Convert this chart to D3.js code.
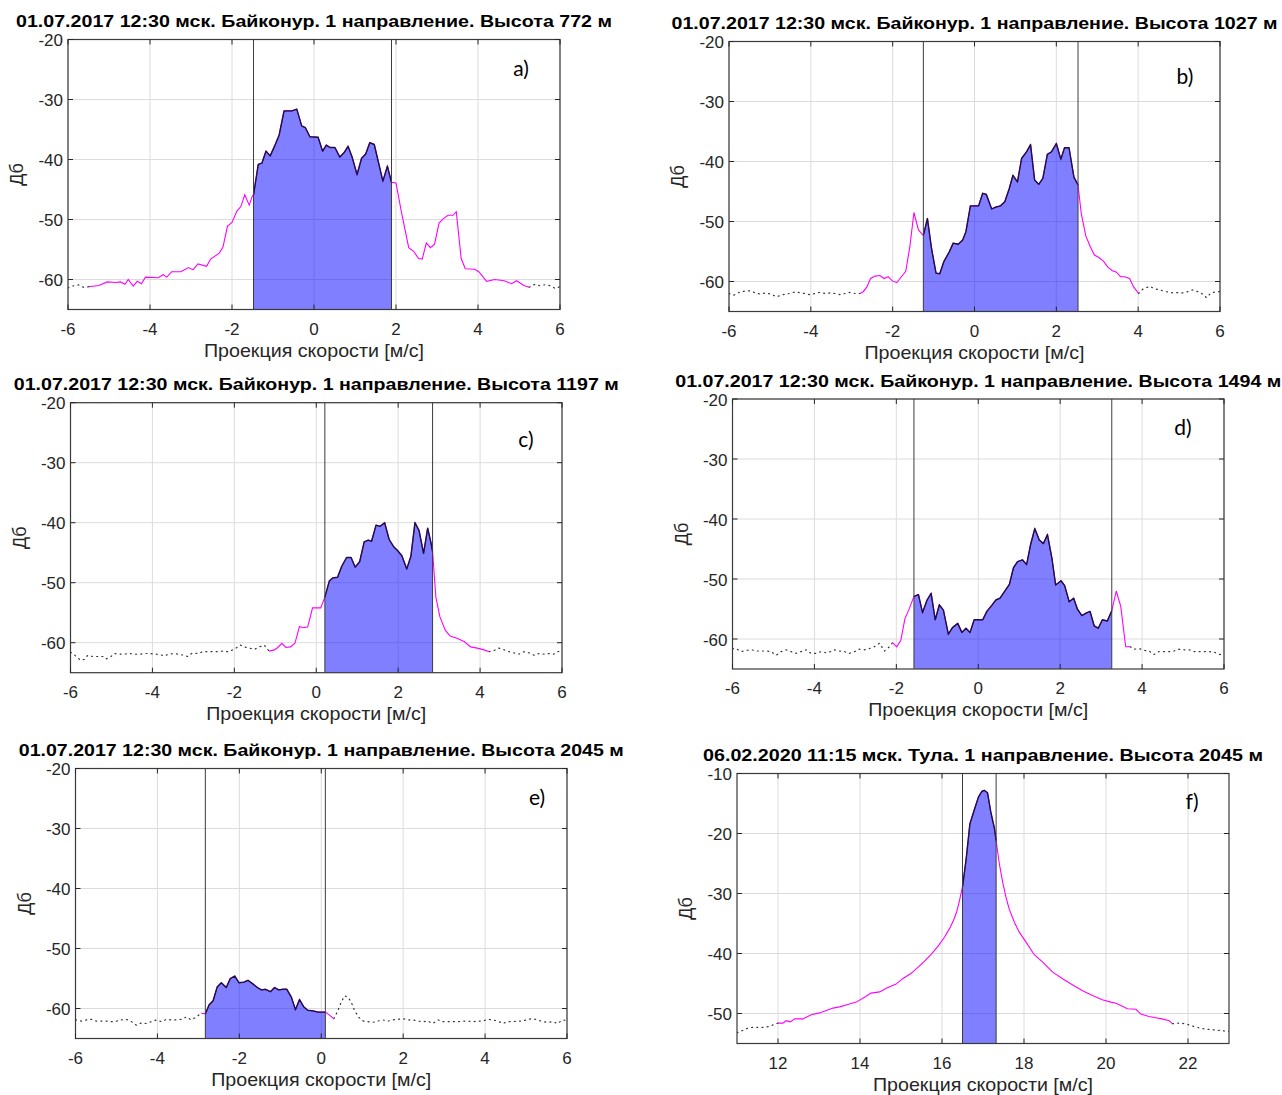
<!DOCTYPE html>
<html>
<head>
<meta charset="utf-8">
<script src="https://cdn.jsdelivr.net/npm/d3@7"></script>
<style>
  html, body { margin: 0; padding: 0; background: #fff; }
  svg { display: block; }
</style>
</head>
<body>
<svg id="chart" width="1282" height="1095"></svg>
<script>
// Доплеровские спектры: шесть панелей (a–f), шум пунктиром, сигнал пурпурным,
// область интегрирования залита синим между двумя вертикальными границами.

const TITLES = [
  '01.07.2017 12:30 мск. Байконур. 1 направление. Высота 772 м',
  '01.07.2017 12:30 мск. Байконур. 1 направление. Высота 1027 м',
  '01.07.2017 12:30 мск. Байконур. 1 направление. Высота 1197 м',
  '01.07.2017 12:30 мск. Байконур. 1 направление. Высота 1494 м',
  '01.07.2017 12:30 мск. Байконур. 1 направление. Высота 2045 м',
  '06.02.2020 11:15 мск. Тула. 1 направление. Высота 2045 м'
];
const TAGS = ['a)', 'b)', 'c)', 'd)', 'e)', 'f)'];
const X_LABEL = 'Проекция скорости [м/с]';
const Y_LABEL = 'Дб';

const X_TICKS_BAIKONUR = [-6, -4, -2, 0, 2, 4, 6];
const X_TICKS_TULA = [12, 14, 16, 18, 20, 22];
const Y_TICKS_BAIKONUR = [-60, -50, -40, -30, -20];
const Y_TICKS_TULA = [-50, -40, -30, -20, -10];

// ---- a) 772 м
const aNoiseL = [[-6.0,-61.4],[-5.9,-61.1],[-5.74,-60.9],[-5.62,-61.3],[-5.49,-61.2]];
const aSig = [[-5.49,-61.2],[-5.25,-61.0],[-5.04,-60.4],[-4.84,-60.5],[-4.72,-60.4],[-4.61,-60.8],[-4.53,-60.0],[-4.41,-61.1],[-4.31,-60.3],[-4.21,-60.7],[-4.11,-59.6],[-3.80,-59.7],[-3.68,-59.2],[-3.59,-59.6],[-3.47,-58.7],[-3.25,-58.7],[-3.06,-58.0],[-2.95,-58.4],[-2.83,-57.4],[-2.62,-57.8],[-2.52,-56.6],[-2.31,-55.6],[-2.22,-54.6],[-2.11,-51.1],[-2.00,-50.5],[-1.88,-48.6],[-1.78,-47.8],[-1.69,-45.9],[-1.58,-47.6],[-1.50,-46.0],[-1.475,-45.9],[-1.36,-40.8],[-1.27,-40.6],[-1.17,-38.6],[-1.07,-39.4],[-0.95,-37.6],[-0.85,-35.9],[-0.73,-31.9],[-0.54,-31.9],[-0.42,-31.6],[-0.30,-34.4],[-0.21,-34.7],[-0.10,-36.2],[0.10,-36.3],[0.21,-38.6],[0.30,-37.6],[0.39,-38.0],[0.51,-38.0],[0.63,-39.6],[0.74,-38.8],[0.83,-37.8],[0.93,-39.6],[1.05,-42.5],[1.16,-39.8],[1.26,-39.1],[1.36,-37.2],[1.47,-37.5],[1.68,-43.6],[1.79,-41.1],[1.89,-43.8],[2.00,-43.9],[2.13,-48.7],[2.31,-54.7],[2.43,-55.3],[2.55,-56.5],[2.64,-56.6],[2.74,-53.9],[2.84,-54.7],[2.94,-54.1],[3.05,-50.6],[3.15,-49.9],[3.27,-49.3],[3.39,-49.3],[3.47,-48.7],[3.59,-56.5],[3.69,-58.2],[3.92,-58.3],[4.02,-58.7],[4.21,-60.3],[4.41,-60.0],[4.64,-60.2],[4.82,-60.7],[4.94,-60.2],[5.12,-61.0],[5.25,-61.3]];
const aNoiseR = [[5.25,-61.3],[5.39,-60.8],[5.51,-61.05],[5.65,-60.85],[5.77,-61.05],[5.88,-61.5],[6.0,-61.2]];
const aBounds = [-1.475, 1.89];

// ---- b) 1027 м
const bNoiseL = [[-6.0,-62.0],[-5.89,-62.3],[-5.72,-61.7],[-5.60,-61.6],[-5.48,-61.55],[-5.36,-61.9],[-5.24,-62.1],[-5.11,-61.9],[-4.99,-62.1],[-4.83,-62.55],[-4.71,-62.2],[-4.59,-62.1],[-4.46,-61.9],[-4.38,-61.7],[-4.26,-61.9],[-4.14,-62.0],[-4.02,-62.2],[-3.89,-62.0],[-3.77,-61.8],[-3.65,-62.0],[-3.53,-61.9],[-3.41,-62.0],[-3.28,-62.2],[-3.16,-62.0],[-3.04,-61.8],[-2.92,-62.0],[-2.80,-62.0]];
const bSig = [[-2.80,-62.0],[-2.72,-61.7],[-2.63,-60.9],[-2.54,-59.5],[-2.43,-59.1],[-2.31,-59.0],[-2.21,-59.5],[-2.11,-59.2],[-2.01,-59.9],[-1.90,-60.2],[-1.82,-59.5],[-1.68,-58.3],[-1.58,-54.2],[-1.48,-48.5],[-1.37,-51.4],[-1.27,-52.2],[-1.25,-52.3],[-1.15,-49.5],[-1.05,-54.5],[-0.94,-58.6],[-0.85,-58.7],[-0.75,-56.7],[-0.62,-55.1],[-0.52,-53.6],[-0.40,-53.8],[-0.29,-53.1],[-0.21,-51.7],[-0.10,-47.4],[0.10,-47.4],[0.20,-45.3],[0.29,-45.5],[0.42,-47.9],[0.52,-47.6],[0.63,-47.4],[0.74,-46.7],[0.85,-44.5],[0.94,-42.3],[1.05,-43.4],[1.15,-39.5],[1.27,-38.4],[1.37,-37.2],[1.47,-43.1],[1.57,-43.8],[1.67,-42.8],[1.78,-38.8],[1.88,-38.4],[2.00,-37.0],[2.11,-39.6],[2.20,-37.7],[2.31,-37.7],[2.43,-42.6],[2.53,-43.9],[2.61,-48.7],[2.72,-52.4],[2.83,-54.2],[2.93,-55.6],[3.04,-56.0],[3.15,-56.6],[3.26,-57.6],[3.37,-58.2],[3.46,-58.4],[3.57,-59.2],[3.67,-59.2],[3.79,-59.5],[3.89,-60.9],[4.01,-62.0]];
const bNoiseR = [[4.01,-62.0],[4.11,-61.3],[4.28,-60.8],[4.40,-61.2],[4.52,-61.4],[4.68,-61.7],[4.85,-61.9],[4.97,-61.85],[5.09,-61.9],[5.21,-61.7],[5.33,-61.4],[5.46,-61.7],[5.58,-62.1],[5.67,-62.7],[5.78,-61.9],[5.90,-61.7],[6.0,-61.7]];
const bBounds = [-1.25, 2.53];

// ---- c) 1197 м
const cNoiseL = [[-6.0,-61.6],[-5.94,-61.8],[-5.86,-62.3],[-5.76,-62.9],[-5.66,-62.8],[-5.58,-62.1],[-5.46,-62.3],[-5.33,-62.3],[-5.21,-62.3],[-5.13,-62.7],[-5.01,-62.3],[-4.93,-61.8],[-4.80,-61.9],[-4.68,-61.9],[-4.56,-61.8],[-4.44,-61.9],[-4.32,-61.95],[-4.20,-61.8],[-4.07,-61.8],[-3.95,-61.9],[-3.83,-61.95],[-3.71,-62.2],[-3.59,-61.9],[-3.46,-61.8],[-3.34,-61.95],[-3.22,-62.1],[-3.14,-62.3],[-3.02,-61.7],[-2.89,-61.8],[-2.77,-61.5],[-2.65,-61.5],[-2.53,-61.5],[-2.41,-61.5],[-2.28,-61.4],[-2.16,-61.5],[-2.04,-61.2],[-1.96,-60.9],[-1.85,-60.4],[-1.76,-60.7],[-1.63,-60.9],[-1.51,-61.1],[-1.39,-60.7],[-1.27,-60.4],[-1.19,-61.1],[-1.15,-61.4]];
const cSig = [[-1.15,-61.4],[-1.02,-61.2],[-0.94,-60.8],[-0.84,-60.1],[-0.74,-60.8],[-0.63,-60.7],[-0.52,-60.1],[-0.41,-57.3],[-0.33,-57.5],[-0.21,-57.4],[-0.09,-54.2],[0.11,-54.2],[0.21,-52.4],[0.32,-49.7],[0.40,-49.2],[0.52,-49.1],[0.62,-47.3],[0.74,-45.8],[0.85,-45.8],[0.95,-47.4],[1.06,-46.5],[1.17,-43.2],[1.27,-42.9],[1.35,-43.1],[1.46,-40.4],[1.56,-40.6],[1.67,-40.0],[1.78,-42.8],[1.89,-44.0],[1.98,-44.6],[2.09,-45.5],[2.21,-47.7],[2.31,-45.6],[2.41,-40.0],[2.51,-41.3],[2.62,-45.1],[2.72,-40.9],[2.80,-43.3],[2.84,-44.8],[2.92,-52.4],[3.02,-55.7],[3.15,-57.9],[3.27,-58.9],[3.45,-59.3],[3.61,-59.8],[3.77,-60.7],[3.93,-60.9],[4.10,-61.2],[4.22,-61.5]];
const cNoiseR = [[4.22,-61.5],[4.34,-61.3],[4.46,-60.9],[4.59,-61.2],[4.71,-61.5],[4.83,-61.7],[4.95,-61.9],[5.07,-61.5],[5.20,-61.7],[5.32,-62.1],[5.44,-61.8],[5.56,-61.9],[5.68,-61.8],[5.80,-61.9],[5.89,-61.5],[6.0,-61.4]];
const cBounds = [0.21, 2.84];

// ---- d) 1494 м
const dNoiseL = [[-6.0,-61.6],[-5.91,-61.6],[-5.79,-62.1],[-5.67,-61.9],[-5.54,-61.8],[-5.42,-62.0],[-5.30,-62.0],[-5.18,-62.0],[-5.06,-62.1],[-4.93,-62.7],[-4.81,-62.1],[-4.69,-61.8],[-4.57,-62.1],[-4.45,-62.4],[-4.33,-62.1],[-4.20,-61.8],[-4.08,-62.4],[-3.96,-62.4],[-3.84,-62.1],[-3.72,-62.3],[-3.59,-62.1],[-3.51,-61.8],[-3.39,-62.0],[-3.27,-62.1],[-3.15,-62.4],[-3.02,-62.1],[-2.90,-61.7],[-2.78,-61.8],[-2.66,-61.6],[-2.54,-61.3],[-2.41,-60.7],[-2.29,-62.0],[-2.17,-61.3],[-2.09,-60.6]];
const dSig = [[-2.09,-60.6],[-1.99,-61.3],[-1.89,-60.2],[-1.79,-56.6],[-1.68,-54.9],[-1.57,-52.9],[-1.46,-52.6],[-1.36,-55.6],[-1.25,-53.5],[-1.15,-52.4],[-1.05,-56.8],[-0.95,-54.3],[-0.85,-55.2],[-0.73,-59.2],[-0.63,-58.1],[-0.50,-57.4],[-0.40,-58.9],[-0.30,-58.2],[-0.20,-58.9],[-0.10,-56.8],[0.11,-56.8],[0.21,-55.4],[0.33,-54.4],[0.43,-53.5],[0.53,-53.2],[0.63,-52.2],[0.76,-50.9],[0.86,-48.1],[0.96,-47.1],[1.08,-46.8],[1.18,-47.6],[1.28,-44.2],[1.38,-41.6],[1.49,-43.5],[1.59,-44.1],[1.69,-42.6],[1.80,-46.6],[1.89,-51.0],[2.02,-50.3],[2.11,-51.1],[2.22,-53.8],[2.33,-53.2],[2.42,-55.0],[2.53,-56.1],[2.63,-55.7],[2.73,-55.4],[2.83,-57.8],[2.93,-58.2],[3.03,-56.8],[3.15,-57.0],[3.26,-55.3],[3.37,-52.0],[3.48,-54.6],[3.60,-61.3],[3.71,-61.3]];
const dNoiseR = [[3.71,-61.3],[3.80,-61.7],[3.93,-61.6],[4.05,-61.9],[4.17,-62.0],[4.29,-62.6],[4.41,-62.1],[4.54,-62.1],[4.66,-62.1],[4.78,-62.0],[4.90,-61.7],[5.02,-61.8],[5.15,-61.8],[5.27,-62.1],[5.39,-62.1],[5.51,-62.1],[5.63,-62.1],[5.76,-62.2],[5.90,-62.6],[6.0,-62.4]];
const dBounds = [-1.57, 3.26];

// ---- e) 2045 м
const eNoiseL = [[-6.0,-61.9],[-5.85,-62.1],[-5.73,-61.9],[-5.61,-61.8],[-5.49,-62.1],[-5.37,-62.1],[-5.24,-62.1],[-5.12,-62.2],[-5.0,-62.1],[-4.88,-61.9],[-4.76,-61.8],[-4.63,-62.2],[-4.51,-62.8],[-4.39,-62.4],[-4.27,-62.5],[-4.15,-62.2],[-4.02,-61.9],[-3.90,-62.2],[-3.78,-61.8],[-3.66,-61.9],[-3.54,-61.9],[-3.41,-61.8],[-3.29,-61.4],[-3.17,-61.9],[-3.05,-61.4],[-2.93,-60.8]];
const eSig = [[-2.93,-60.8],[-2.83,-60.9],[-2.74,-59.4],[-2.64,-58.7],[-2.54,-56.4],[-2.44,-55.7],[-2.32,-56.5],[-2.22,-55.0],[-2.11,-54.6],[-2.01,-55.7],[-1.89,-55.6],[-1.79,-55.3],[-1.67,-55.9],[-1.56,-56.5],[-1.46,-56.9],[-1.36,-56.8],[-1.24,-57.2],[-1.14,-56.5],[-1.04,-56.9],[-0.93,-56.8],[-0.84,-56.8],[-0.73,-58.1],[-0.63,-60.2],[-0.53,-58.5],[-0.43,-59.7],[-0.33,-60.3],[-0.20,-60.4],[-0.08,-60.6],[0.10,-60.6],[0.20,-61.1],[0.31,-61.7]];
const eNoiseR = [[0.31,-61.7],[0.41,-60.3],[0.49,-58.9],[0.57,-57.9],[0.65,-58.1],[0.73,-58.9],[0.81,-60.3],[0.92,-61.5],[1.03,-62.1],[1.14,-62.2],[1.26,-62.3],[1.38,-62.1],[1.50,-61.9],[1.63,-62.1],[1.75,-61.9],[1.87,-61.8],[1.99,-61.7],[2.11,-61.9],[2.24,-61.9],[2.36,-62.1],[2.48,-62.2],[2.60,-62.1],[2.72,-62.5],[2.85,-61.9],[2.97,-62.2],[3.09,-62.2],[3.21,-62.2],[3.33,-62.2],[3.46,-62.1],[3.58,-62.1],[3.70,-62.2],[3.82,-62.1],[3.94,-62.1],[4.07,-61.8],[4.19,-61.9],[4.31,-62.1],[4.43,-62.5],[4.55,-62.2],[4.67,-62.2],[4.80,-62.1],[4.92,-62.1],[5.04,-61.8],[5.16,-61.7],[5.28,-61.9],[5.41,-62.2],[5.53,-62.3],[5.65,-62.2],[5.77,-62.5],[5.89,-61.9],[6.0,-62.0]];
const eBounds = [-2.83, 0.10];

// ---- f) Тула, 2045 м
const fNoiseL = [[11.0,-53.2],[11.15,-52.8],[11.27,-52.4],[11.39,-52.3],[11.51,-52.3],[11.63,-52.3],[11.76,-52.2],[11.88,-51.9],[12.0,-51.6]];
const fSig = [[12.0,-51.6],[12.12,-51.6],[12.20,-51.2],[12.30,-51.4],[12.41,-50.9],[12.61,-50.9],[12.81,-50.2],[13.01,-49.9],[13.18,-49.5],[13.34,-49.1],[13.50,-48.9],[13.70,-48.5],[13.91,-48.1],[14.11,-47.3],[14.27,-46.6],[14.48,-46.4],[14.64,-45.8],[14.88,-45.1],[15.04,-44.2],[15.25,-43.3],[15.41,-42.3],[15.57,-41.3],[15.73,-40.2],[15.90,-38.8],[16.06,-37.3],[16.18,-35.9],[16.28,-34.5],[16.36,-33.0],[16.42,-31.4],[16.46,-30.1],[16.50,-28.9],[16.59,-24.2],[16.68,-18.4],[16.79,-16.0],[16.89,-13.9],[16.97,-13.0],[17.03,-12.8],[17.11,-13.2],[17.19,-16.4],[17.28,-19.2],[17.32,-21.2],[17.40,-25.1],[17.48,-28.1],[17.56,-30.6],[17.64,-32.6],[17.76,-34.7],[17.88,-36.4],[18.05,-38.1],[18.25,-40.2],[18.45,-41.4],[18.70,-43.1],[18.94,-44.2],[19.18,-45.2],[19.43,-46.2],[19.67,-47.0],[19.91,-47.7],[20.12,-48.1],[20.24,-48.3],[20.40,-48.8],[20.52,-49.2],[20.73,-49.3],[20.85,-50.1],[21.05,-50.5],[21.21,-50.7],[21.37,-50.9],[21.54,-51.2],[21.62,-51.7]];
const fNoiseR = [[21.62,-51.7],[21.78,-51.6],[21.94,-51.7],[22.11,-52.1],[22.27,-52.4],[22.43,-52.6],[22.59,-52.7],[22.75,-52.8],[23.0,-53.0]];
const fBounds = [16.50, 17.32];

// раскладка панелей (пиксели страницы): рамка осей, ширина заголовка, метка
const panels = [
  { box: [68, 39.5, 560, 309.5], xDom: [-6, 6], yDom: [-65, -20], xT: X_TICKS_BAIKONUR, yT: Y_TICKS_BAIKONUR,
    noise: [aNoiseL, aNoiseR], sig: aSig, bounds: aBounds, titleW: 596, tag: [521, 69] },
  { box: [729, 41.5, 1220, 311.5], xDom: [-6, 6], yDom: [-65, -20], xT: X_TICKS_BAIKONUR, yT: Y_TICKS_BAIKONUR,
    noise: [bNoiseL, bNoiseR], sig: bSig, bounds: bBounds, titleW: 606, tag: [1185, 77] },
  { box: [70.5, 402.7, 562, 672.7], xDom: [-6, 6], yDom: [-65, -20], xT: X_TICKS_BAIKONUR, yT: Y_TICKS_BAIKONUR,
    noise: [cNoiseL, cNoiseR], sig: cSig, bounds: cBounds, titleW: 605, tag: [526, 440] },
  { box: [732.5, 399, 1224, 669], xDom: [-6, 6], yDom: [-65, -20], xT: X_TICKS_BAIKONUR, yT: Y_TICKS_BAIKONUR,
    noise: [dNoiseL, dNoiseR], sig: dSig, bounds: dBounds, titleW: 606, tag: [1183, 428] },
  { box: [75.5, 768.5, 567, 1038.5], xDom: [-6, 6], yDom: [-65, -20], xT: X_TICKS_BAIKONUR, yT: Y_TICKS_BAIKONUR,
    noise: [eNoiseL, eNoiseR], sig: eSig, bounds: eBounds, titleW: 605, tag: [537, 798] },
  { box: [737, 773.5, 1229, 1043.5], xDom: [11, 23], yDom: [-55, -10], xT: X_TICKS_TULA, yT: Y_TICKS_TULA,
    noise: [fNoiseL, fNoiseR], sig: fSig, bounds: fBounds, titleW: 560, tag: [1192, 802] }
];

const FONT = '"Liberation Sans", Arial, Helvetica, sans-serif';
const INK = '#262626';
const svg = d3.select('#chart');

// точки сигнала внутри [lo, hi] с интерполированными концами
function clipToBounds(pts, lo, hi) {
  const at = xv => {
    for (let i = 1; i < pts.length; i++) {
      const p = pts[i - 1], q = pts[i];
      if (xv >= p[0] && xv <= q[0]) {
        const t = q[0] === p[0] ? 0 : (xv - p[0]) / (q[0] - p[0]);
        return [xv, p[1] + t * (q[1] - p[1])];
      }
    }
    return null;
  };
  const inner = pts.filter(p => p[0] > lo && p[0] < hi);
  return [at(lo), ...inner, at(hi)].filter(Boolean);
}

panels.forEach((P, i) => {
  const [L, T, R, B] = P.box;
  const x = d3.scaleLinear().domain(P.xDom).range([L, R]);
  const y = d3.scaleLinear().domain(P.yDom).range([B, T]);
  const g = svg.append('g');

  const clipId = 'clip' + i;
  g.append('clipPath').attr('id', clipId)
    .append('rect').attr('x', L).attr('y', T).attr('width', R - L).attr('height', B - T);

  // сетка
  g.append('g').selectAll('line').data(P.xT).join('line')
    .attr('x1', d => x(d)).attr('x2', d => x(d)).attr('y1', T).attr('y2', B)
    .attr('stroke', '#dcdcdc').attr('stroke-width', 1);
  g.append('g').selectAll('line').data(P.yT).join('line')
    .attr('y1', d => y(d)).attr('y2', d => y(d)).attr('x1', L).attr('x2', R)
    .attr('stroke', '#dcdcdc').attr('stroke-width', 1);

  const plot = g.append('g').attr('clip-path', `url(#${clipId})`);
  const line = d3.line().x(d => x(d[0])).y(d => y(d[1]));

  // шум — пунктир
  P.noise.forEach(seg => {
    plot.append('path').attr('d', line(seg)).attr('fill', 'none')
      .attr('stroke', '#333').attr('stroke-width', 1.2)
      .attr('stroke-dasharray', '1,4.2').attr('stroke-linecap', 'round');
  });

  // сигнал — пурпурный
  plot.append('path').attr('d', line(P.sig)).attr('fill', 'none')
    .attr('stroke', '#ff00ff').attr('stroke-width', 1.1);

  // заливка области интегрирования
  const [lo, hi] = P.bounds;
  const inside = clipToBounds(P.sig, lo, hi);
  const area = d3.area().x(d => x(d[0])).y0(y(P.yDom[0])).y1(d => y(d[1]));
  plot.append('path').attr('d', area(inside))
    .attr('fill', '#0000ff').attr('fill-opacity', 0.5);
  plot.append('path').attr('d', line(inside)).attr('fill', 'none')
    .attr('stroke', '#1c1240').attr('stroke-width', 1.4).attr('stroke-linejoin', 'round');

  // вертикальные границы
  g.append('g').selectAll('line').data(P.bounds).join('line')
    .attr('x1', d => x(d)).attr('x2', d => x(d)).attr('y1', T).attr('y2', B)
    .attr('stroke', '#3c3c3c').attr('stroke-width', 1);

  // рамка и засечки внутрь
  g.append('rect').attr('x', L).attr('y', T).attr('width', R - L).attr('height', B - T)
    .attr('fill', 'none').attr('stroke', '#3a3a3a').attr('stroke-width', 1.2);
  const tk = 5;
  g.append('g').selectAll('path').data(P.xT).join('path')
    .attr('d', d => `M${x(d)},${B}v${-tk}M${x(d)},${T}v${tk}`)
    .attr('stroke', INK).attr('stroke-width', 1);
  g.append('g').selectAll('path').data(P.yT).join('path')
    .attr('d', d => `M${L},${y(d)}h${tk}M${R},${y(d)}h${-tk}`)
    .attr('stroke', INK).attr('stroke-width', 1);

  // подписи делений
  g.append('g').selectAll('text').data(P.xT).join('text')
    .attr('x', d => x(d)).attr('y', B + 25)
    .attr('text-anchor', 'middle').attr('font-family', FONT).attr('font-size', 17)
    .attr('fill', INK).text(d => String(d));
  g.append('g').selectAll('text').data(P.yT).join('text')
    .attr('x', L - 5).attr('y', d => y(d) + 6.5)
    .attr('text-anchor', 'end').attr('font-family', FONT).attr('font-size', 17)
    .attr('fill', INK).text(d => String(d));

  // подписи осей
  g.append('text').attr('x', (L + R) / 2).attr('y', B + 47)
    .attr('text-anchor', 'middle').attr('font-family', FONT).attr('font-size', 18.5)
    .attr('fill', INK).attr('textLength', 220).attr('lengthAdjust', 'spacingAndGlyphs')
    .text(X_LABEL);
  g.append('text')
    .attr('transform', `translate(${L - 45},${(T + B) / 2}) rotate(-90)`)
    .attr('text-anchor', 'middle').attr('font-family', FONT).attr('font-size', 18)
    .attr('fill', INK).text(Y_LABEL);

  // заголовок
  g.append('text').attr('x', (L + R) / 2).attr('y', T - 12.5)
    .attr('text-anchor', 'middle').attr('font-family', FONT).attr('font-weight', 'bold')
    .attr('font-size', 17).attr('fill', '#000')
    .attr('textLength', P.titleW).attr('lengthAdjust', 'spacingAndGlyphs')
    .text(TITLES[i]);

  // метка панели
  g.append('text').attr('x', P.tag[0]).attr('y', P.tag[1] + 7)
    .attr('text-anchor', 'middle').attr('font-family', 'Lato, "Open Sans", sans-serif')
    .attr('font-size', 21).attr('fill', '#000').text(TAGS[i]);
});
</script>
</body>
</html>
